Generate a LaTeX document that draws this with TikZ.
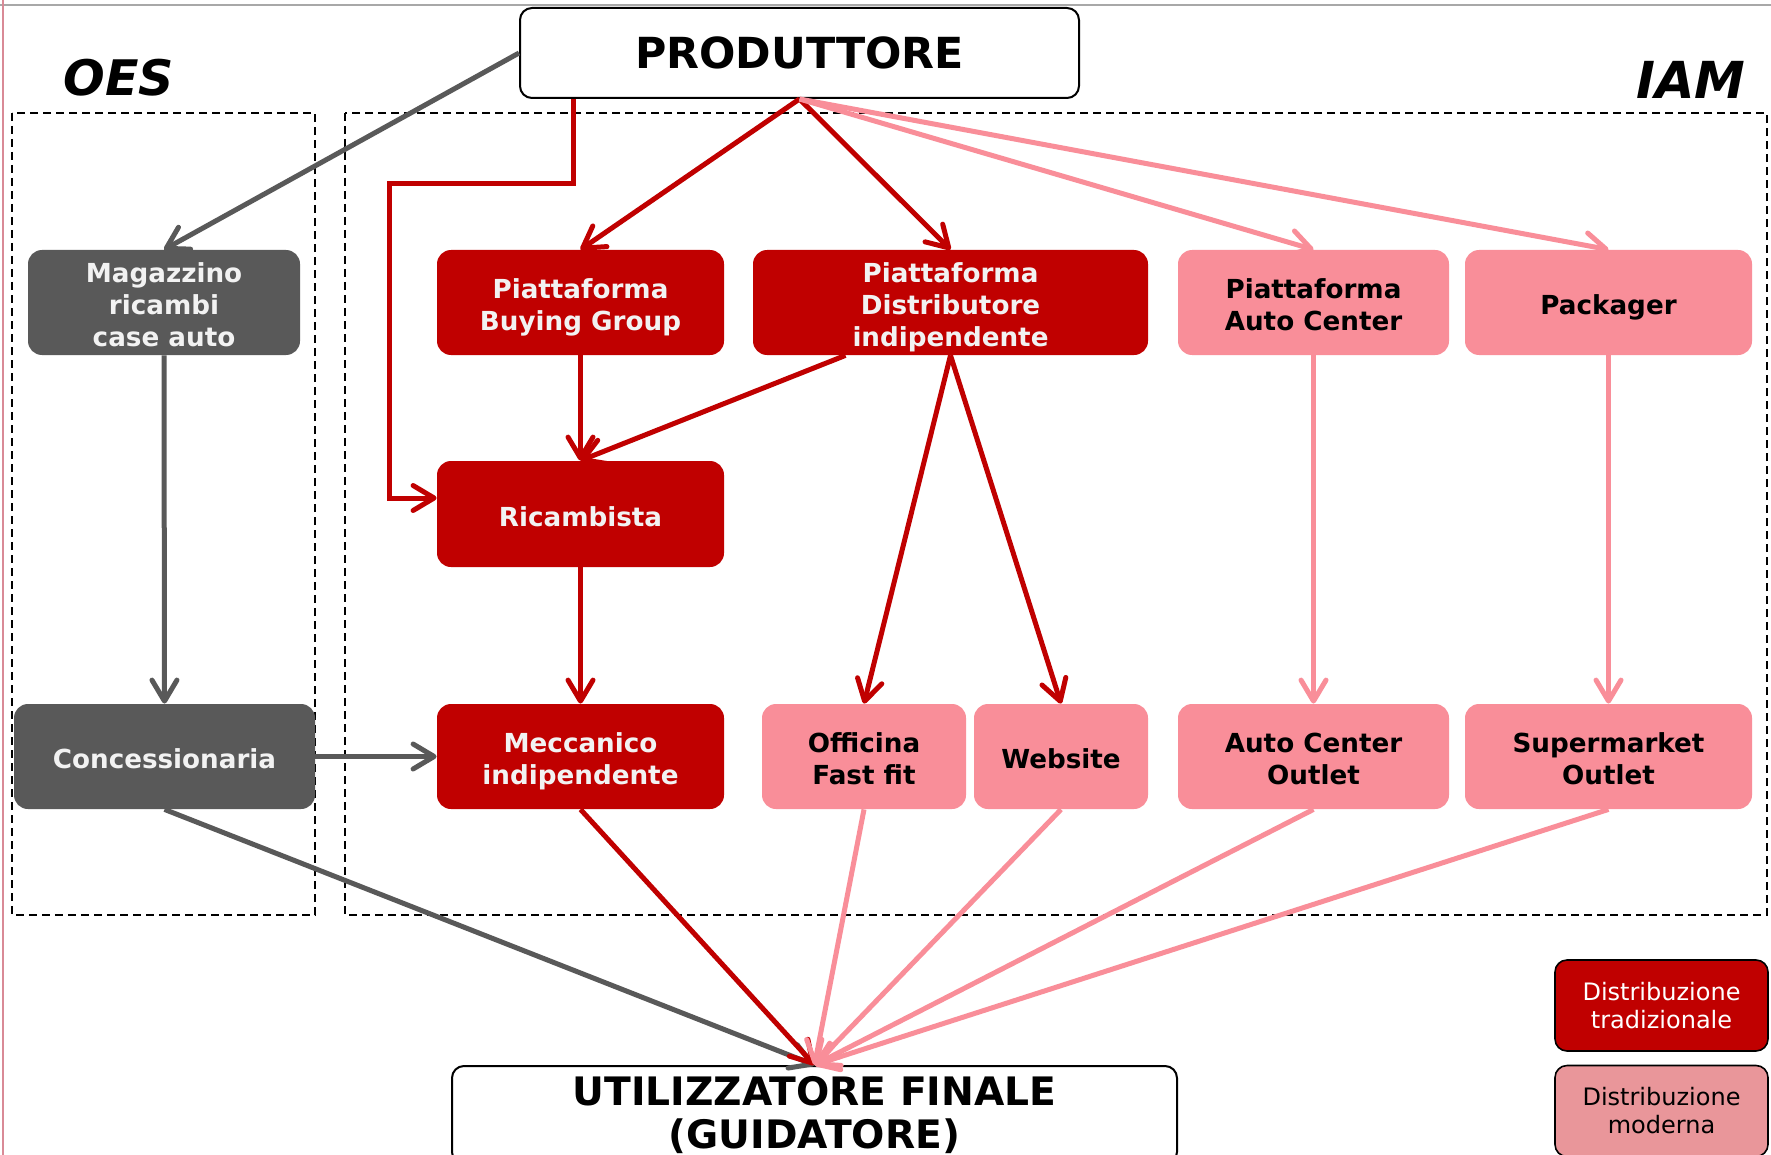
\documentclass[tikz,border=0pt]{standalone}
\usepackage{fontspec}
\setmainfont{DejaVu Sans}
\usetikzlibrary{arrows.meta}
\definecolor{cred}{HTML}{C00000}
\definecolor{cpink}{HTML}{F98E99}
\definecolor{cgray}{HTML}{595959}
\definecolor{cleg}{HTML}{E9969A}
\definecolor{ntext}{HTML}{F2F2F2}
\definecolor{wingray}{HTML}{A8A8A8}
\definecolor{winpink}{HTML}{D98A96}
\newcommand\nt{\rule{0pt}{15.4pt}}
\newcommand\nb{\rule[-3.2pt]{0pt}{3.2pt}}
\begin{document}
\begin{tikzpicture}[x=0.5pt,y=-0.5pt,
  nd/.style={rounded corners=7pt, minimum height=52.5pt, align=center, inner sep=0pt,
     font=\bfseries\fontsize{13.1}{16}\selectfont},
  tradn/.style={nd, fill=cred, text=ntext},
  modn/.style={nd, fill=cpink, text=black},
  oesn/.style={nd, fill=cgray, text=ntext},
  bigbox/.style={draw=black, line width=1pt, fill=white, rounded corners=6pt, align=center, font=\bfseries\fontsize{21.4}{24}\selectfont},
  dbox/.style={draw=black, line width=0.75pt, dash pattern=on 4pt off 2.5pt},
  ar/.style={line width=2.5pt, -{Straight Barb[length=10.5pt,width=12.5pt,round]}},
  ared/.style={ar, draw=cred},
  apink/.style={ar, draw=cpink},
  agray/.style={ar, draw=cgray},
  legbox/.style={draw=black, line width=0.8pt, rounded corners=6pt, minimum width=106.5pt, minimum height=45.5pt, align=center, inner sep=1pt, font=\fontsize{12}{14}\selectfont},
  lbl/.style={font=\bfseries\itshape\fontsize{24.5}{28}\selectfont, inner sep=0pt}
]
\useasboundingbox (0,0) rectangle (1771,1155);
\clip (0,0) rectangle (1771,1155);
\fill[white] (0,0) rectangle (1771,1155);
\draw[wingray, line width=1pt] (0,5) -- (1771,5);
\draw[winpink, line width=1pt] (3,0) -- (3,1155);

% region boxes
\draw[dbox] (12,113) rectangle (315,915);
\draw[dbox] (345,113) rectangle (1767,915);
\node[lbl] (oes) at (119,78) {OES};
\node[lbl, font=\bfseries\itshape\fontsize{25.5}{28}\selectfont] (iam) at (1691,80) {IAM};

% nodes
\node[bigbox, minimum width=279.5pt, minimum height=45pt] (prod) at (799.5,53) {PRODUTTORE};
\node[oesn, minimum width=136pt] (mag) at (164,302.5) {\nt Magazzino\\ricambi\\case auto\nb};
\node[tradn, minimum width=143.5pt] (bg) at (580.5,302.5) {\nt Piattaforma\\Buying Group\nb};
\node[tradn, minimum width=197.5pt] (dist) at (950.5,302.5) {\nt Piattaforma\\Distributore\\indipendente\nb};
\node[modn, minimum width=135.5pt] (ac) at (1313.5,302.5) {\nt Piattaforma\\Auto Center\nb};
\node[modn, minimum width=143.5pt] (pack) at (1608.5,302.5) {\nt Packager\nb};
\node[tradn, minimum width=143.5pt, minimum height=53pt] (ric) at (580.5,514) {\nt Ricambista\nb};
\node[oesn, minimum width=150.5pt] (conc) at (164.5,756.5) {\nt Concessionaria\nb};
\node[tradn, minimum width=143.5pt] (mec) at (580.5,756.5) {\nt Meccanico\\indipendente\nb};
\node[modn, minimum width=102pt] (off) at (864,756.5) {\nt Officina\\Fast fit\nb};
\node[modn, minimum width=87pt] (web) at (1061,756.5) {\nt Website\nb};
\node[modn, minimum width=135.5pt] (aco) at (1313.5,756.5) {\nt Auto Center\\Outlet\nb};
\node[modn, minimum width=143.5pt] (sup) at (1608.5,756.5) {\nt Supermarket\\Outlet\nb};
\node[bigbox, minimum width=362.5pt, minimum height=49pt, font=\bfseries\fontsize{19.6}{21.8}\selectfont] (ut) at (814.5,1115) {UTILIZZATORE FINALE\\(GUIDATORE)};

% legend
\node[legbox, fill=cred, text=white] (l1) at (1661.5,1005.5) {Distribuzione\\tradizionale};
\node[legbox, fill=cleg, text=black] (l2) at (1661.5,1111) {Distribuzione\\moderna};

% connectors
\draw[agray] (prod.west) -- (mag.north);
\draw[ared] ([xshift=27pt]prod.south west) -- ++(0,85) -| (389,498) -- ([yshift=8pt]ric.west);
\draw[ared] (prod.south) -- (bg.north);
\draw[ared] (prod.south) -- (dist.north);
\draw[apink] (prod.south) -- (ac.north);
\draw[apink] (prod.south) -- (pack.north);
\draw[ared] (bg.south) -- (ric.north);
\draw[ared] ([xshift=-52.5pt]dist.south) -- (ric.north);
\draw[ared] (dist.south) -- (off.north);
\draw[ared] (dist.south) -- (web.north);
\draw[ared] (ric.south) -- (mec.north);
\draw[apink] (ac.south) -- (aco.north);
\draw[apink] (pack.south) -- (sup.north);
\draw[agray] (mag.south) -- (conc.north);
\draw[agray] (conc.east) -- (mec.west);
\draw[agray] (conc.south) -- (ut.north);
\draw[ared] (mec.south) -- (ut.north);
\draw[apink] (off.south) -- (ut.north);
\draw[apink] (web.south) -- (ut.north);
\draw[apink] (aco.south) -- (ut.north);
\draw[apink] (sup.south) -- (ut.north);
\end{tikzpicture}
\end{document}
